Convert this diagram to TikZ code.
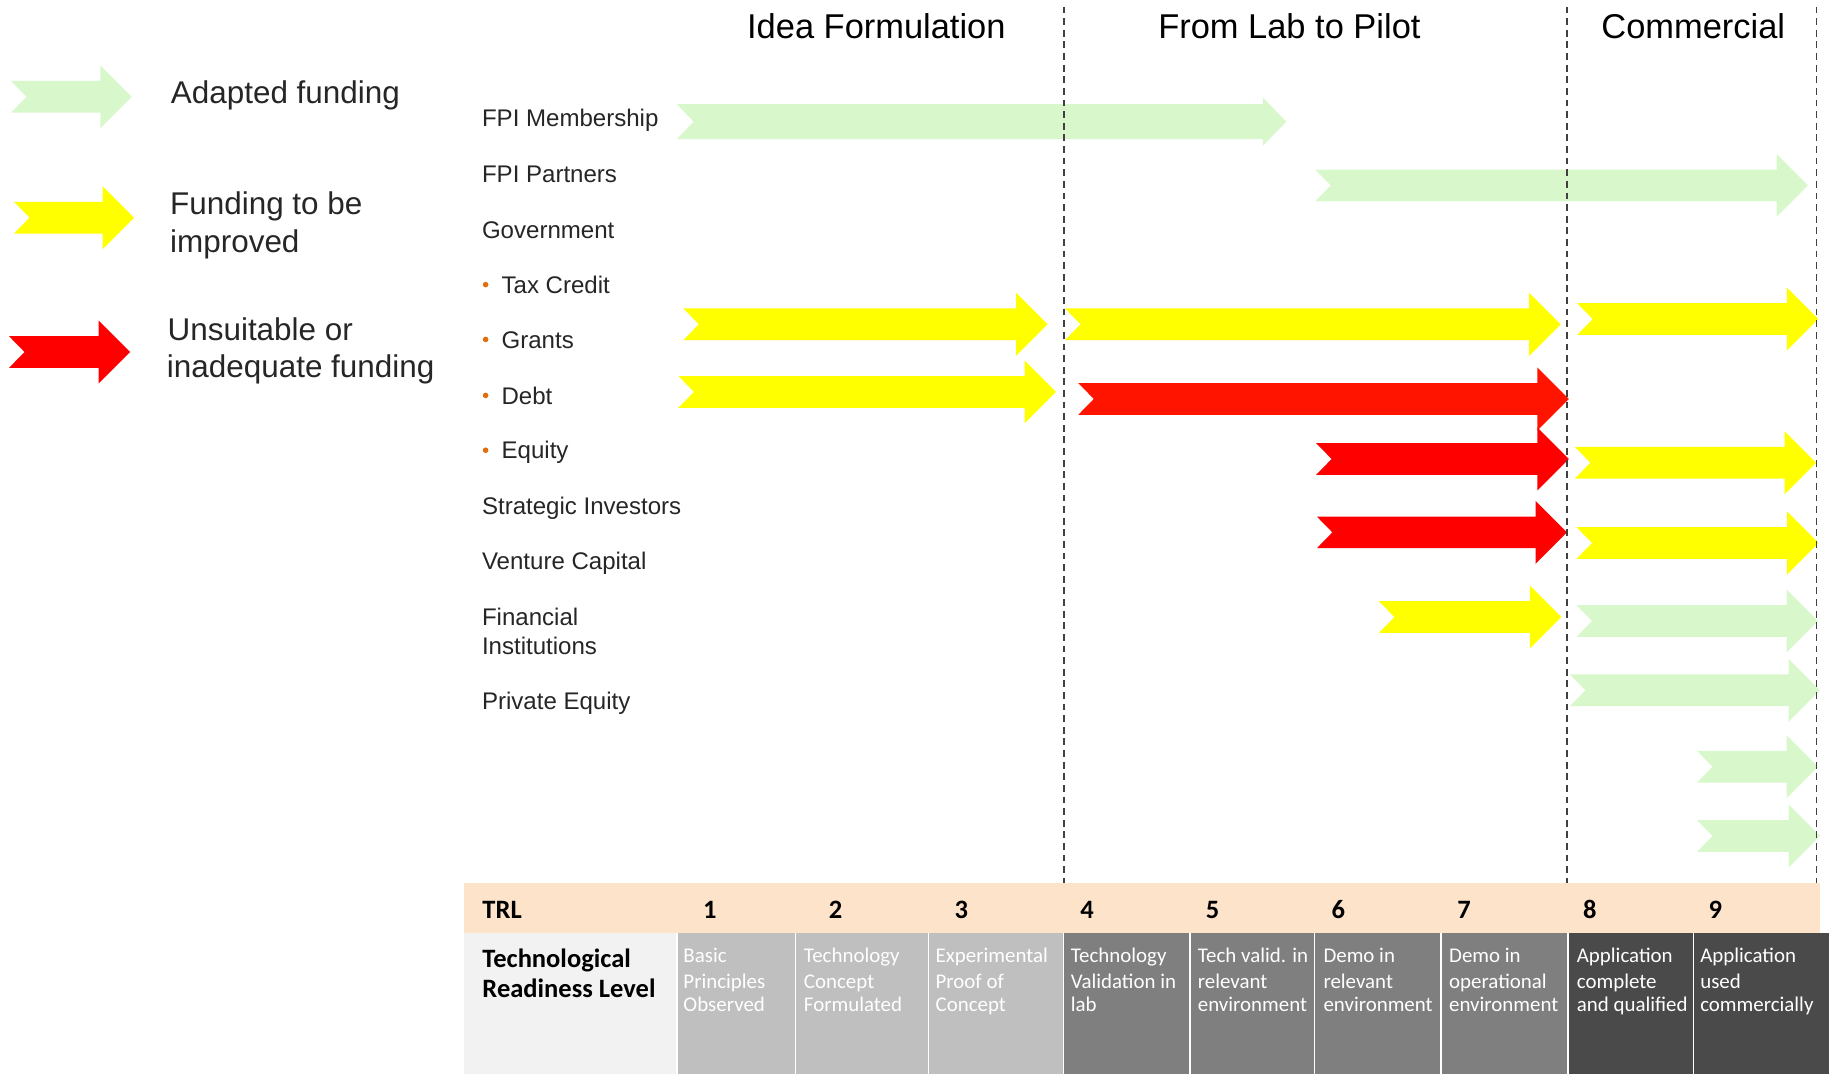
\documentclass[tikz,border=0pt]{standalone}
\usepackage{fontspec}
\setmainfont{Liberation Sans}
\newfontfamily\calibrifont{Carlito}
\usepackage{tikz}
\usetikzlibrary{calc}

\definecolor{adapted}{RGB}{216,248,204}
\definecolor{improve}{RGB}{255,255,0}
\definecolor{unsuit}{RGB}{255,0,0}
\definecolor{unsuitdebt}{RGB}{255,20,0}
\definecolor{labelgray}{RGB}{38,38,38}
\definecolor{bulletorange}{RGB}{228,108,10}
\definecolor{trlpeach}{RGB}{253,227,202}
\definecolor{cellpale}{RGB}{242,242,242}
\definecolor{celllight}{RGB}{191,191,191}
\definecolor{cellmid}{RGB}{127,127,127}
\definecolor{celldark}{RGB}{74,74,74}
\definecolor{dashgray}{RGB}{64,64,64}

% chevron arrow with a notched tail
% colour, tail x, tip x, centre y
\newcommand{\fundarrow}[4]{%
    \fill[#1] (#2,{#4-\bodyh}) -- ({#3-\headl},{#4-\bodyh})
        -- ({#3-\headl},{#4-\headh}) -- (#3,#4)
        -- ({#3-\headl},{#4+\headh}) -- ({#3-\headl},{#4+\bodyh})
        -- (#2,{#4+\bodyh}) -- ({#2+\notch},#4) -- cycle;}

\begin{document}
\begin{tikzpicture}[x=0.03cm, y=-0.03cm]

        \tikzset{
            phase/.style={font=\fontsize{25.2}{30}\selectfont, anchor=base, inner sep=0pt},
            legend/.style={font=\fontsize{23}{28}\selectfont, text=labelgray,
                anchor=base west, inner sep=0pt},
            source/.style={font=\fontsize{17.6}{21}\selectfont, text=labelgray,
                anchor=base west, inner sep=0pt},
            trlhead/.style={font=\calibrifont\bfseries\fontsize{19.4}{23}\selectfont,
                anchor=base, inner sep=0pt},
            trltext/.style={font=\calibrifont\fontsize{15.3}{18}\selectfont, text=white,
                anchor=base west, inner sep=0pt},
            phasesep/.style={dashgray, line width=1pt, dash pattern=on 5pt off 3.5pt}
        }

        \useasboundingbox (0,0) rectangle (1568,920.7);

        % default size of the arrows
        \pgfmathsetmacro{\bodyh}{13.6}
        \pgfmathsetmacro{\headh}{27}
        \pgfmathsetmacro{\headl}{27}
        \pgfmathsetmacro{\notch}{13.3}

        % Legend
        \fundarrow{adapted}{9.4}{113}{83}
        \fundarrow{improve}{12}{115}{186.6}
        \fundarrow{unsuit}{7.7}{111.5}{301.8}

        \node[legend] (legA) at (146.3,89) {Adapted funding};
        \node[legend] (legB1) at (145.7,183.5) {Funding to be};
        \node[legend] (legB2) at (145.7,216.3) {improved};
        \node[legend] (legC1) at (143.5,291.5) {Unsuitable or};
        \node[legend] (legC2) at (142.9,323.8) {inadequate funding};

        % Phases
        \node[phase] (idea) at (751.3,33) {Idea Formulation};
        \node[phase] (lab) at (1105.4,33) {From Lab to Pilot};
        \node[phase] (comm) at (1451.6,33) {Commercial};

        % Sources of funding
        \foreach \name/\txt/\yb in {fpim/FPI Membership/108.5,
            fpip/FPI Partners/156.4, gov/Government/204.4,
            strat/Strategic Investors/441.4, vc/Venture Capital/488.4,
            fin1/Financial/536.6, fin2/Institutions/561.5,
            pe/Private Equity/608.4}
            \node[source] (\name) at (413,\yb) {\txt};

        \foreach \name/\txt/\yb in {tax/Tax Credit/251.4, grants/Grants/298.4,
            debt/Debt/346.4, equity/Equity/393.4}
        {
            \fill[bulletorange] (416.3,\yb-7.4) circle (2.4);
            \node[source] (\name) at (429.8,\yb) {\txt};
        }

        % FPI Membership arrow has a smaller head
        \begin{scope}
            \pgfmathsetmacro{\bodyh}{15}
            \pgfmathsetmacro{\headh}{20.7}
            \pgfmathsetmacro{\headl}{20}
            \pgfmathsetmacro{\notch}{14.4}
            \fundarrow{adapted}{580.2}{1102.7}{104.3}
        \end{scope}

        \fundarrow{adapted}{1127.5}{1550}{159}
        \fundarrow{improve}{585.8}{898.2}{278}
        \fundarrow{improve}{913}{1338}{278}
        \fundarrow{improve}{1352.1}{1558.9}{273.5}
        \fundarrow{improve}{581.6}{905.3}{336}
        \fundarrow{unsuitdebt}{924.4}{1345}{342}
        \fundarrow{unsuit}{1128.3}{1345}{393.5}
        \fundarrow{improve}{1350.1}{1557}{396.7}
        \fundarrow{unsuit}{1128.9}{1343.4}{456.4}
        \fundarrow{improve}{1351.5}{1559}{465.5}
        \fundarrow{improve}{1182.1}{1338.5}{529}
        \fundarrow{adapted}{1351.5}{1558.6}{532.4}
        \fundarrow{adapted}{1345.8}{1560.3}{591.8}
        \fundarrow{adapted}{1454.8}{1558.6}{657.3}
        \fundarrow{adapted}{1454.8}{1560.3}{716.7}

        % Dashed lines between the phases
        \foreach \x in {912.2,1343.4,1557.5}
            \draw[phasesep] (\x,5.7) -- (\x,756.7);

        % TRL table
        \fill[trlpeach] (398,756.7) rectangle (1560.3,800.1);
        \fill[cellpale] (398,800.1) rectangle (580.7,920.7);
        \foreach \l/\r/\c in {580.7/682/celllight, 682/796/celllight,
            796/911.7/celllight, 911.7/1020.1/cellmid, 1020.1/1127/cellmid,
            1127/1235.4/cellmid, 1235.4/1344.2/cellmid,
            1344.2/1451.9/celldark, 1451.9/1568/celldark}
            \fill[\c] (\l,800.1) rectangle (\r,920.7);
        \foreach \x in {580.7,682,796,911.7,1020.1,1127,1235.4,1344.2,1451.9}
            \draw[white, line width=0.045cm] (\x,800.1) -- (\x,920.7);

        \node[trlhead, anchor=base west] (trl) at (413.4,787.5) {TRL};
        \foreach \i in {1,...,9}
            \node[trlhead] (n\i) at ({608.6+107.75*(\i-1)},787.5) {\i};

        \node[trlhead, anchor=base west] (trl1) at (413.4,829.3) {Technological};
        \node[trlhead, anchor=base west] (trl2) at (413.4,855) {Readiness Level};

        \foreach \i/\x/\a/\b/\c in {1/585.7/Basic/Principles/Observed,
            2/689/Technology/Concept/Formulated,
            3/801.9/Experimental/Proof of/Concept,
            4/917.8/Technology/Validation in/lab,
            5/1026.7/Tech valid. in/relevant/environment,
            6/1134.4/Demo in/relevant/environment,
            7/1242.1/Demo in/operational/environment,
            8/1351.6/Application/complete/and qualified,
            9/1457.4/Application/used/commercially}
        {
            \node[trltext] (c\i-1) at (\x,825.3) {\a};
            \node[trltext] (c\i-2) at (\x,847.3) {\b};
            \node[trltext] (c\i-3) at (\x,867.3) {\c};
        }

\end{tikzpicture}
\end{document}
